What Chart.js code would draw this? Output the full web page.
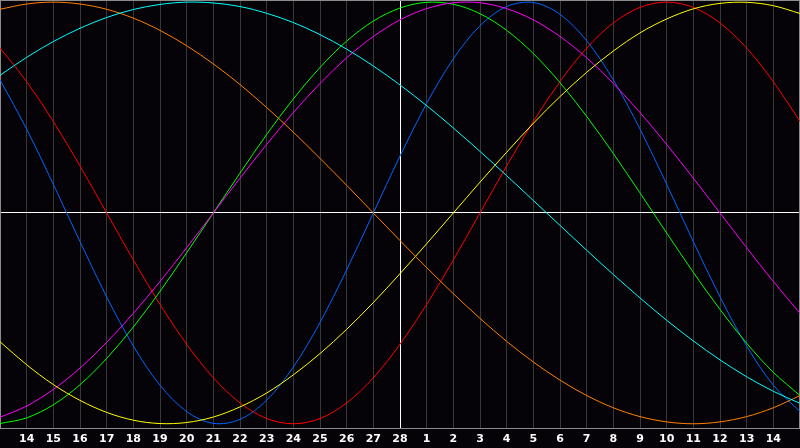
<!DOCTYPE html>
<html>
<head>
<meta charset="utf-8">
<script src="https://cdn.jsdelivr.net/npm/chart.js@4/dist/chart.umd.min.js"></script>
<style>
  html, body { margin: 0; padding: 0; background: #050307; }
  #wrap { width: 800px; height: 448px; }
</style>
</head>
<body>
<div id="wrap"><canvas id="bioChart"></canvas></div>
<script>
/* ── 날짜 라벨 (가운데 28 = 오늘) ── */
var days = ['13', '14', '15', '16', '17', '18', '19', '20', '21', '22', '23', '24', '25', '26', '27', '28',
            '1', '2', '3', '4', '5', '6', '7', '8', '9', '10', '11', '12', '13', '14', '15'];
var todayIdx = 15;

// 각 곡선 값 (-1 ~ 1)
var physical = [0.631, 0.398, 0.136, -0.136, -0.398, -0.631, -0.817, -0.942, -0.998, -0.979, -0.888, -0.731, -0.520, -0.270, 0,
                0.270, 0.520, 0.731, 0.888, 0.979, 0.998, 0.942, 0.817, 0.631, 0.398, 0.136, -0.136, -0.398, -0.631, -0.817, -0.942];
var emotional = [0.782, 0.623, 0.434, 0.223, 0, -0.223, -0.434, -0.623, -0.782, -0.901, -0.975, -1, -0.975, -0.901, -0.782,
                 -0.623, -0.434, -0.223, 0, 0.223, 0.434, 0.623, 0.782, 0.901, 0.975, 1, 0.975, 0.901, 0.782, 0.623, 0.434];
var intellectual = [-0.999, -0.972, -0.910, -0.815, -0.690, -0.541, -0.372, -0.189, 0, 0.189, 0.372, 0.541, 0.690, 0.815, 0.910,
                    0.972, 0.999, 0.990, 0.945, 0.866, 0.756, 0.618, 0.458, 0.282, 0.095, -0.095, -0.282, -0.458, -0.618, -0.756, -0.866];
var intuitive = [-0.969, -0.916, -0.837, -0.736, -0.614, -0.476, -0.325, -0.165, 0, 0.165, 0.325, 0.476, 0.614, 0.736, 0.837,
                 0.916, 0.969, 0.997, 0.997, 0.969, 0.916, 0.837, 0.736, 0.614, 0.476, 0.325, 0.165, 0, -0.165, -0.325, -0.476];
var aesthetic = [-0.611, -0.720, -0.814, -0.889, -0.946, -0.983, -0.999, -0.994, -0.968, -0.920, -0.854, -0.768, -0.667, -0.552, -0.425,
                 -0.288, -0.146, 0, 0.146, 0.288, 0.425, 0.552, 0.667, 0.768, 0.854, 0.920, 0.968, 0.994, 0.999, 0.983, 0.946];
var awareness = [0.966, 0.991, 1, 0.991, 0.966, 0.924, 0.866, 0.793, 0.707, 0.609, 0.5, 0.383, 0.259, 0.131, 0,
                 -0.131, -0.259, -0.383, -0.5, -0.609, -0.707, -0.793, -0.866, -0.924, -0.966, -0.991, -1, -0.991, -0.966, -0.924, -0.866];
var spiritual = [0.653, 0.738, 0.813, 0.876, 0.927, 0.965, 0.989, 1.000, 0.996, 0.979, 0.947, 0.903, 0.846, 0.777, 0.697,
                 0.607, 0.509, 0.403, 0.292, 0.177, 0.059, -0.059, -0.177, -0.292, -0.403, -0.509, -0.607, -0.697, -0.777, -0.846, -0.903];

function makeLine(label, data, color) {
  return {
    label: label,
    data: data,
    borderColor: color,
    backgroundColor: color,
    borderWidth: 1,
    pointRadius: 0,
    tension: 0.33,
    fill: false
  };
}

/* ── 배경 + 테두리 ── */
var framePlugin = {
  id: 'frame',
  beforeDraw: function(chart) {
    var c = chart.ctx;
    c.save();
    c.fillStyle = '#050307';
    c.fillRect(0, 0, chart.width, chart.height);
    c.restore();
  },
  beforeDatasetsDraw: function(chart) {
    var a = chart.chartArea, c = chart.ctx;
    c.save();
    c.strokeStyle = '#8c8c8c';
    c.lineWidth = 1;
    c.strokeRect(a.left + 0.5, a.top + 0.5, a.right - a.left - 1, a.bottom - a.top);
    c.restore();
  }
};

new Chart(document.getElementById('bioChart').getContext('2d'), {
  type: 'line',
  data: {
    labels: days,
    datasets: [
      makeLine('Spiritual', spiritual, '#00ffff'),
      makeLine('Awareness', awareness, '#ff8000'),
      makeLine('Aesthetic', aesthetic, '#ffff00'),
      makeLine('Intuitive', intuitive, '#ff00ff'),
      makeLine('Intellectual', intellectual, '#00ff00'),
      makeLine('Emotional', emotional, '#ff0000'),
      makeLine('Physical', physical, '#0066ff')
    ]
  },
  options: {
    responsive: true,
    maintainAspectRatio: false,
    animation: false,
    layout: { padding: 0 },
    plugins: {
      legend: { display: false },
      tooltip: { enabled: false }
    },
    scales: {
      x: {
        type: 'category',
        offset: false,
        border: { display: false },
        afterFit: function(scale) {
          // 양 끝 라벨 여백 제거, 축 높이 고정
          scale.paddingLeft = 0;
          scale.paddingRight = 0;
          scale.height = 20;
        },
        grid: {
          drawTicks: false,
          lineWidth: 1,
          color: function(ctx) {
            if (ctx.index === todayIdx) return '#ffffff';
            if (ctx.index === 0 || ctx.index === days.length - 1) return '#8c8c8c';
            return '#383838';
          }
        },
        ticks: {
          autoSkip: false,
          maxRotation: 0,
          padding: 5,
          color: '#ffffff',
          font: { family: 'DejaVu Sans', size: 11, weight: 'bold' },
          callback: function(v, i) {
            return (i === 0 || i === days.length - 1) ? '' : days[i];
          }
        }
      },
      y: {
        min: -1.02,
        max: 1.01,
        border: { display: false },
        ticks: { display: false, stepSize: 1 },
        grid: {
          drawTicks: false,
          color: function(ctx) { return ctx.tick && ctx.tick.value === 0 ? '#ffffff' : 'transparent'; }
        }
      }
    }
  },
  plugins: [framePlugin]
});
</script>
</body>
</html>
